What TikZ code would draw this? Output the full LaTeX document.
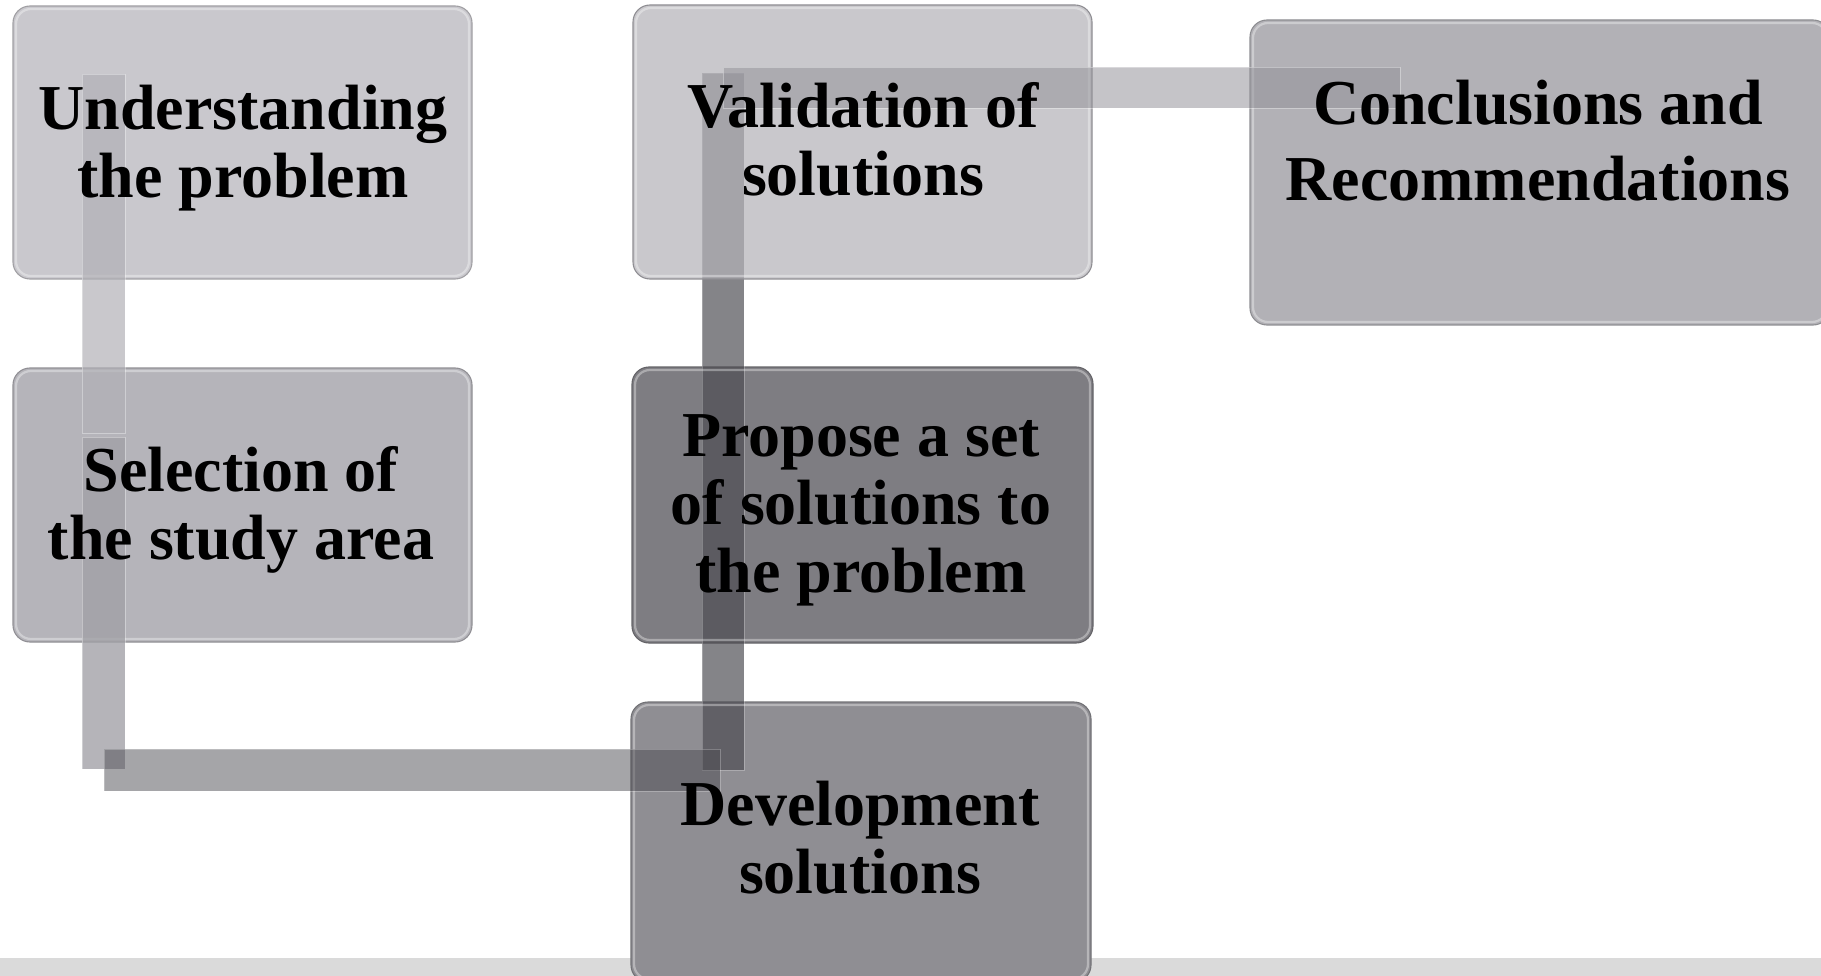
\documentclass[tikz,border=0pt]{standalone}
\usepackage{fontspec}
\setmainfont{Liberation Serif}
\begin{document}
\begin{tikzpicture}[x=1pt,y=-1pt]
% colours of the stages and the connector bars
\definecolor{ucol}{HTML}{C9C8CD}
\definecolor{scol}{HTML}{B5B4BA}
\definecolor{vcol}{HTML}{B3B2B8}
\definecolor{pcol}{HTML}{7E7D82}
\definecolor{dcol}{HTML}{8F8E93}
\definecolor{ccol}{HTML}{B2B1B6}
\definecolor{bandcol}{HTML}{DADADA}
\tikzset{
  stagebox/.style={rounded corners=17pt, inner sep=0pt, outer sep=0pt,
    anchor=north west, draw=#1!80!black, line width=1.1pt, fill=#1},
  bevel/.style={rounded corners=15pt, draw=white, line width=2.2pt, draw opacity=0.35},
  steptext/.style={align=center, inner sep=0pt,
    font=\bfseries\fontsize{64}{68}\selectfont},
  barupper/.style={fill={rgb,255:red,177;green,176;blue,182}, fill opacity=0.69,
    draw=white, draw opacity=0.35, line width=0.8pt},
  barlower/.style={fill={rgb,255:red,161;green,160;blue,166}, fill opacity=0.78,
    draw=white, draw opacity=0.35, line width=0.8pt},
  bardark/.style={fill={rgb,255:red,77;green,76;blue,82}, fill opacity=#1,
    draw=white, draw opacity=0.25, line width=0.8pt},
  bartop/.style={fill={rgb,255:red,148;green,147;blue,154}, fill opacity=0.54,
    draw=white, draw opacity=0.35, line width=0.8pt},
}
\useasboundingbox (0,0) rectangle (1821,976);
\fill[white] (0,0) rectangle (1821,976);
% grey strip along the lower edge
\fill[bandcol] (0,958) rectangle (1821,976);

% opaque stages
\node[stagebox=ucol, minimum width=459pt, minimum height=273pt] (U) at (13,6) {};
\node[stagebox=scol, minimum width=459pt, minimum height=274pt] (S) at (13,368) {};
\node[stagebox=pcol, minimum width=461pt, minimum height=276pt] (P) at (632,367) {};
\node[stagebox=dcol, minimum width=460pt, minimum height=280pt] (D) at (631,702) {};
\node[stagebox=ccol, minimum width=580pt, minimum height=305pt] (C) at (1250,20) {};

% connector rising from Development through Propose up to Validation
\coordinate (rb) at (702,770);
\coordinate (rt) at (744,73);
\path[bardark=0.685, draw] (rb) rectangle (rt);

% Validation lies over the rising connector
\node[stagebox=vcol, fill opacity=0.705, minimum width=459pt, minimum height=274pt] (V) at (633,5) {};

% inner highlights of the stages
\foreach \b in {U,S,V,P,D,C}{
  \draw[bevel] ([shift={(3,3)}]\b.north west) rectangle ([shift={(-3,-3)}]\b.south east);
}

% connector Understanding -> Selection
\coordinate (l1t) at (82,74);
\coordinate (l1b) at (125,433);
\path[barupper] (l1t) rectangle (l1b);
% connector Selection -> Development
\coordinate (l2t) at (82,437);
\coordinate (l2b) at (125,769);
\path[barlower] (l2t) rectangle (l2b);
\coordinate (hbl) at (104,749);
\coordinate (hbr) at (720,791);
\path[bardark=0.5] (hbl) rectangle (hbr);
% connector Validation -> Conclusions
\coordinate (htl) at (723,67);
\coordinate (htr) at (1400,108);
\path[bartop] (htl) rectangle (htr);

% labels
\node[steptext] (Ut) at (243,150) {\strut Understanding\\\strut the problem};
\node[steptext] (St) at (241,512) {\strut Selection of\\\strut the study area};
\node[steptext] (Vt) at (863,148) {\strut Validation of\\\strut solutions};
\node[steptext] (Pt) at (861,511) {\strut Propose a set\\\strut of solutions to\\\strut the problem};
\node[steptext] (Dt) at (860,846) {\strut Development\\\strut solutions};
\node[steptext, font=\bfseries\fontsize{64}{76}\selectfont] (Ct) at (1538,147) {\strut Conclusions and\\\strut Recommendations};
\end{tikzpicture}
\end{document}
